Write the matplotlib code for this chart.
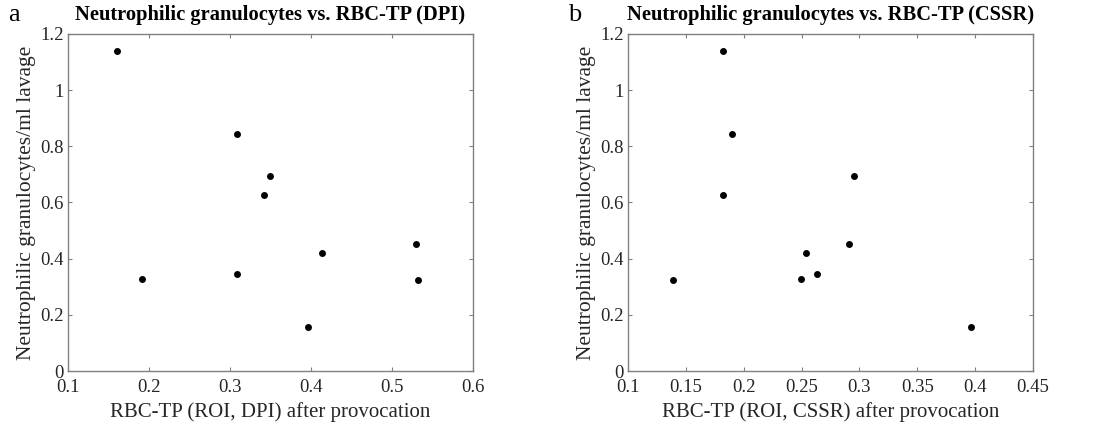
import matplotlib
matplotlib.use("Agg")
import matplotlib.pyplot as plt

plt.rcParams['font.family'] = ['Liberation Serif', 'DejaVu Serif']

neutrophils = [1.140, 0.328, 0.8435, 0.3445, 0.694, 0.626, 0.419, 0.156, 0.4515, 0.323]
rbc_dpi = [0.160, 0.191, 0.3086, 0.309, 0.349, 0.342, 0.414, 0.396, 0.5296, 0.532]
rbc_cssr = [0.182, 0.2495, 0.190, 0.263, 0.295, 0.182, 0.254, 0.396, 0.291, 0.139]

xticks_a = [0.1, 0.2, 0.3, 0.4, 0.5, 0.6]
xtick_labels_a = ['0.1', '0.2', '0.3', '0.4', '0.5', '0.6']
xticks_b = [0.1, 0.15, 0.2, 0.25, 0.3, 0.35, 0.4, 0.45]
xtick_labels_b = ['0.1', '0.15', '0.2', '0.25', '0.3', '0.35', '0.4', '0.45']
yticks = [0, 0.2, 0.4, 0.6, 0.8, 1.0, 1.2]
ytick_labels = ['0', '0.2', '0.4', '0.6', '0.8', '1', '1.2']

titles = ['Neutrophilic granulocytes vs. RBC-TP (DPI)',
          'Neutrophilic granulocytes vs. RBC-TP (CSSR)']
xlabels = ['RBC-TP (ROI, DPI) after provocation',
           'RBC-TP (ROI, CSSR) after provocation']
ylabel = 'Neutrophilic granulocytes/ml lavage'
panel_letters = ['a', 'b']

fig = plt.figure(figsize=(11.2, 4.24), dpi=100)
lefts = [68 / 1120, 628 / 1120]
w = 405 / 1120
b = 1 - 371 / 424
h = 337 / 424

xdata = [rbc_dpi, rbc_cssr]
xticks = [xticks_a, xticks_b]
xtl = [xtick_labels_a, xtick_labels_b]
xlims = [(0.1, 0.6), (0.1, 0.45)]
txtcol = '#262626'
for i in range(2):
    ax = fig.add_axes([lefts[i], b, w, h])
    ax.plot(xdata[i], neutrophils, 'o', color='black', markersize=5, markeredgewidth=0)
    ax.set_xlim(*xlims[i])
    ax.set_ylim(0, 1.2)
    ax.set_xticks(xticks[i])
    ax.set_xticklabels(xtl[i])
    ax.set_yticks(yticks)
    ax.set_yticklabels(ytick_labels)
    ax.tick_params(direction='in', length=3, width=0.8, color='#808080',
                   labelsize=13.5, labelcolor=txtcol, top=True, right=True, pad=3)
    ax.tick_params(axis='x', pad=6)
    for s in ax.spines.values():
        s.set_color('#808080')
        s.set_linewidth(1.0)
    ax.set_xlabel(xlabels[i], fontsize=15, color=txtcol, labelpad=4)
    ax.set_ylabel(ylabel, fontsize=15.5, color=txtcol, labelpad=3)
    ax.set_title(titles[i], fontsize=14.8, fontweight='bold', color='black', pad=10)
    fig.text(lefts[i] - 60 / 1120, 1 - 15 / 424, panel_letters[i], fontsize=19,
             ha='left', va='center', color='black')

fig.savefig('out.png', dpi=100)
